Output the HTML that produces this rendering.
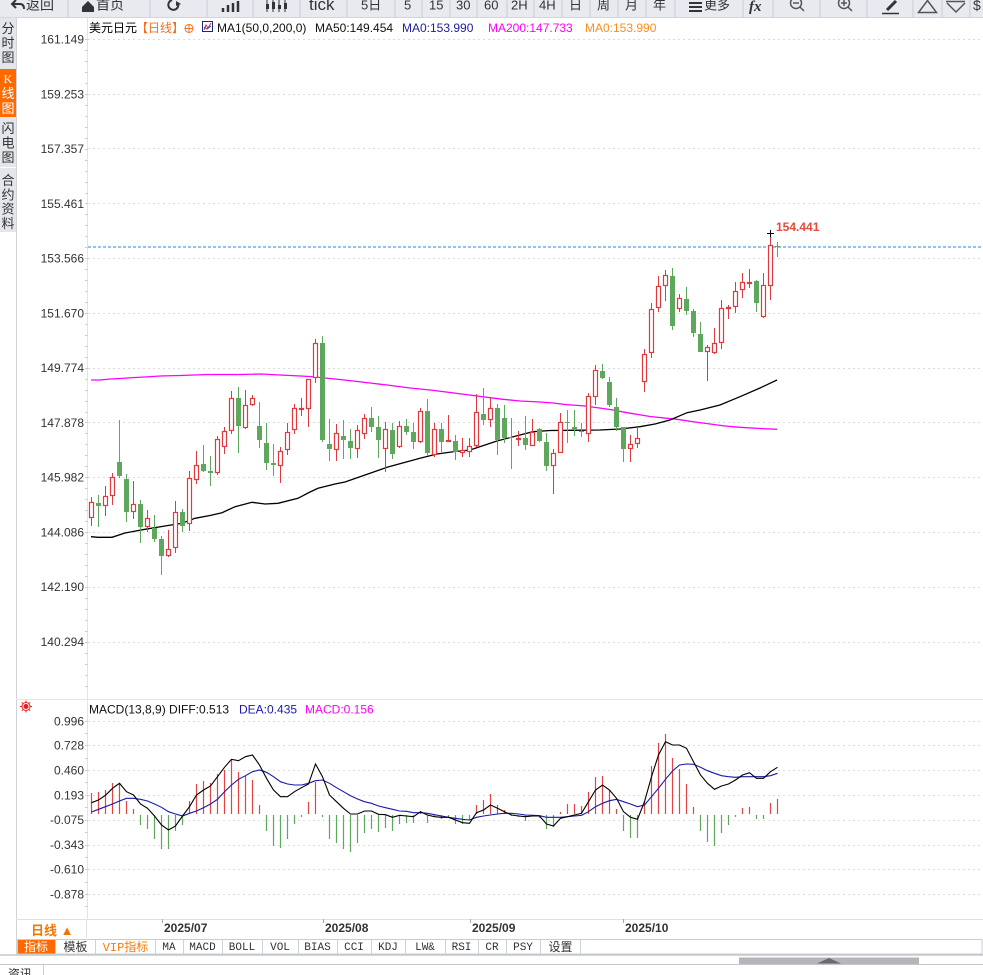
<!DOCTYPE html>
<html><head><meta charset="utf-8"><style>
html,body{margin:0;padding:0;background:#fff;width:983px;height:975px;overflow:hidden}
svg{display:block}
.t{font-family:"Liberation Sans","Noto Sans CJK SC",sans-serif}
.m{font-family:"Liberation Mono","Noto Sans CJK SC",monospace}
</style></head><body>
<svg width="983" height="975" viewBox="0 0 983 975" xmlns="http://www.w3.org/2000/svg">
<rect width="983" height="975" fill="#fff"/>
<!-- toolbar -->
<rect x="0" y="0" width="983" height="17" fill="#e9eaef"/>
<line x1="0" y1="17.5" x2="983" y2="17.5" stroke="#d2d5db"/>
<g stroke="#d3d6dc" stroke-width="1.5">
<line x1="68" y1="0" x2="68" y2="17"/><line x1="150" y1="0" x2="150" y2="17"/><line x1="207" y1="0" x2="207" y2="17"/><line x1="253" y1="0" x2="253" y2="17"/><line x1="300" y1="0" x2="300" y2="17"/><line x1="347" y1="0" x2="347" y2="17"/><line x1="395" y1="0" x2="395" y2="17"/><line x1="422" y1="0" x2="422" y2="17"/><line x1="450" y1="0" x2="450" y2="17"/><line x1="477" y1="0" x2="477" y2="17"/><line x1="507" y1="0" x2="507" y2="17"/><line x1="534" y1="0" x2="534" y2="17"/><line x1="562" y1="0" x2="562" y2="17"/><line x1="590" y1="0" x2="590" y2="17"/><line x1="618" y1="0" x2="618" y2="17"/><line x1="646" y1="0" x2="646" y2="17"/><line x1="675" y1="0" x2="675" y2="17"/><line x1="743" y1="0" x2="743" y2="17"/><line x1="773" y1="0" x2="773" y2="17"/><line x1="820" y1="0" x2="820" y2="17"/><line x1="867" y1="0" x2="867" y2="17"/><line x1="913" y1="0" x2="913" y2="17"/><line x1="942" y1="0" x2="942" y2="17"/><line x1="970" y1="0" x2="970" y2="17"/>
</g>
<g fill="none" stroke="#333" stroke-width="2">
<path d="M16 0 L12 4 L16 8 M12 4 H20 Q24 4 24 9"/>
<path d="M178 3 A5 5 0 1 1 172 0"/>
<path d="M223 12V8 M228 12V5 M233 12V3 M238 12V1" stroke-width="2.5"/>
<path d="M267 0V12 M273 0V12 M279 0V12 M285 0V12" stroke-width="1"/>
<path d="M689 3H702 M689 7H702 M689 11H702" stroke-width="2"/>
<path d="M887 10 L896 1" stroke-width="3"/>
<path d="M882 13.5H899" stroke-width="1.5"/>
</g>
<polygon points="82,7 88,1 94,7 94,12 82,12" fill="#333"/>
<polygon points="176,1 181,4 176,6" fill="#333"/>
<path d="M266 4h3v5h-3z M272 2h3v7h-3z M278 5h3v4h-3z M284 3h3v6h-3z" fill="#333"/>
<g fill="none" stroke="#555" stroke-width="1.5">
<circle cx="796" cy="3" r="5.5"/><path d="M793 3H799 M800 7 L804 11"/>
<circle cx="844" cy="3" r="5.5"/><path d="M841 3H847 M844 0V6 M848 7 L852 11"/>
<polygon points="918.5,12.5 927.5,0.5 936.5,12.5"/>
<path d="M946 1.5H965 M947 3 L956 12 L965 3"/>
</g>
<g class="t" font-size="14" fill="#333">
<text x="26" y="9.5">返回</text>
<text x="96" y="9.5">首页</text>
<text x="309" y="10" font-size="17">tick</text>
<text x="361" y="9.5" font-size="13">5日</text>
<text x="404" y="9.5" font-size="13">5</text>
<text x="429" y="9.5" font-size="13">15</text>
<text x="456" y="9.5" font-size="13">30</text>
<text x="484" y="9.5" font-size="13">60</text>
<text x="511" y="9.5" font-size="13">2H</text>
<text x="539" y="9.5" font-size="13">4H</text>
<text x="569" y="9.5" font-size="13">日</text>
<text x="597" y="9.5" font-size="13">周</text>
<text x="625" y="9.5" font-size="13">月</text>
<text x="653" y="9.5" font-size="13">年</text>
<text x="704" y="9.5" font-size="13">更多</text>
<text x="749" y="11" font-size="15" font-weight="bold" font-style="italic" font-family="Liberation Serif">fx</text>
<text x="973" y="10" font-size="14">$</text>
</g>
<!-- left sidebar -->
<rect x="0" y="18" width="16" height="214" fill="#e4e6eb"/>
<rect x="0" y="69" width="16" height="48" fill="#ff6a00"/>
<line x1="0" y1="167.5" x2="16" y2="167.5" stroke="#fff"/>
<line x1="16.5" y1="18" x2="16.5" y2="955" stroke="#cfd3d9"/>
<g class="t" font-size="13" fill="#333" text-anchor="middle">
<text x="8" y="33">分</text><text x="8" y="47.5">时</text><text x="8" y="62">图</text>
<text x="8" y="83" fill="#fff" font-family="Liberation Serif" font-size="12">K</text><text x="8" y="98" fill="#fff">线</text><text x="8" y="113" fill="#fff">图</text>
<text x="8" y="133">闪</text><text x="8" y="147.5">电</text><text x="8" y="162">图</text>
<text x="8" y="185">合</text><text x="8" y="199.5">约</text><text x="8" y="213.5">资</text><text x="8" y="228">料</text>
</g>
<!-- axis line -->
<line x1="87.5" y1="18" x2="87.5" y2="919" stroke="#e1e5ea"/>
<path d="M85 39.5h3M85 50.5h3M85 61.5h3M85 72.5h3M85 83.5h3M85 94.5h3M85 105.5h3M85 116.5h3M85 127.5h3M85 138.5h3M85 149.5h3M85 160.5h3M85 171.5h3M85 182.5h3M85 193.5h3M85 203.5h3M85 214.5h3M85 225.5h3M85 236.5h3M85 247.5h3M85 258.5h3M85 269.5h3M85 280.5h3M85 291.5h3M85 302.5h3M85 313.5h3M85 324.5h3M85 335.5h3M85 346.5h3M85 357.5h3M85 368.5h3M85 379.5h3M85 390.5h3M85 401.5h3M85 412.5h3M85 422.5h3M85 433.5h3M85 444.5h3M85 455.5h3M85 466.5h3M85 477.5h3M85 488.5h3M85 499.5h3M85 510.5h3M85 521.5h3M85 532.5h3M85 543.5h3M85 554.5h3M85 565.5h3M85 576.5h3M85 587.5h3M85 598.5h3M85 609.5h3M85 620.5h3M85 631.5h3M85 642.5h3M85 653.5h3M85 664.5h3M85 675.5h3M85 686.5h3M85 721.5h3M85 733.5h3M85 745.5h3M85 758.5h3M85 770.5h3M85 782.5h3M85 795.5h3M85 807.5h3M85 820.5h3M85 832.5h3M85 845.5h3M85 857.5h3M85 869.5h3M85 882.5h3M85 894.5h3M85 906.5h3" stroke="#c9cfd6"/>
<!-- grid -->
<g stroke="#dcdcdc" stroke-dasharray="2,3">
<line x1="88" y1="39.5" x2="983" y2="39.5"/><line x1="88" y1="94.5" x2="983" y2="94.5"/><line x1="88" y1="148.5" x2="983" y2="148.5"/><line x1="88" y1="203.5" x2="983" y2="203.5"/><line x1="88" y1="258.5" x2="983" y2="258.5"/><line x1="88" y1="313.5" x2="983" y2="313.5"/><line x1="88" y1="368.5" x2="983" y2="368.5"/><line x1="88" y1="422.5" x2="983" y2="422.5"/><line x1="88" y1="477.5" x2="983" y2="477.5"/><line x1="88" y1="532.5" x2="983" y2="532.5"/><line x1="88" y1="587.5" x2="983" y2="587.5"/><line x1="88" y1="642.5" x2="983" y2="642.5"/>
<line x1="88" y1="721.5" x2="983" y2="721.5"/><line x1="88" y1="745.5" x2="983" y2="745.5"/><line x1="88" y1="770.5" x2="983" y2="770.5"/><line x1="88" y1="795.5" x2="983" y2="795.5"/><line x1="88" y1="820.5" x2="983" y2="820.5"/><line x1="88" y1="845.5" x2="983" y2="845.5"/><line x1="88" y1="869.5" x2="983" y2="869.5"/><line x1="88" y1="894.5" x2="983" y2="894.5"/>
</g>
<line x1="16" y1="699.5" x2="983" y2="699.5" stroke="#e3e5e9"/>
<!-- y labels -->
<g class="t" font-size="12" fill="#333" text-anchor="end">
<text x="84" y="43.5">161.149</text><text x="84" y="98.3">159.253</text><text x="84" y="153">157.357</text><text x="84" y="207.8">155.461</text><text x="84" y="262.5">153.566</text><text x="84" y="317.3">151.670</text><text x="84" y="372">149.774</text><text x="84" y="426.8">147.878</text><text x="84" y="481.6">145.982</text><text x="84" y="536.4">144.086</text><text x="84" y="591.2">142.190</text><text x="84" y="646">140.294</text>
<text x="84" y="725.3">0.996</text><text x="84" y="749.5">0.728</text><text x="84" y="774.3">0.460</text><text x="84" y="799.3">0.193</text><text x="84" y="824">-0.075</text><text x="84" y="849">-0.343</text><text x="84" y="873.7">-0.610</text><text x="84" y="898.5">-0.878</text>
</g>
<!-- header -->
<g class="t" font-size="12">
<text x="89" y="32" fill="#000">美元日元</text>
<text x="136" y="32" fill="#f07020">【日线】</text>
<text x="217" y="32" fill="#111">MA1(50,0,200,0)</text>
<text x="315" y="32" fill="#111">MA50:149.454</text>
<text x="402" y="32" fill="#1c1ca0">MA0:153.990</text>
<text x="488" y="32" fill="#ff00ff">MA200:147.733</text>
<text x="585" y="32" fill="#ff8c1a">MA0:153.990</text>
<text x="89" y="713.5" fill="#111">MACD(13,8,9) DIFF:0.513</text>
<text x="239" y="713.5" fill="#1a1aa8">DEA:0.435</text>
<text x="305" y="713.5" fill="#ff00ff">MACD:0.156</text>
</g>
<g fill="none" stroke="#f07020"><circle cx="189" cy="28.5" r="4"/><path d="M185 28.5h8M189 24.5v8"/></g>
<rect x="202.5" y="21.5" width="10" height="10" fill="#fff" stroke="#1a2a8a"/>
<path d="M204 30 L206 25 L208 28 L211 23" fill="none" stroke="#d03030"/>
<path d="M204 27 L207 29 L211 26" fill="none" stroke="#2040c0"/>
<g stroke="#e02020" stroke-width="1">
<circle cx="26" cy="706.5" r="3" fill="#e02020" stroke="#fff"/>
<circle cx="26" cy="706.5" r="4" fill="none"/>
<path d="M26 700.5v1.5M26 711v1.5M20 706.5h1.5M30.5 706.5h1.5M21.8 702.3l1 1M29.2 709.7l1 1M30.2 702.3l-1 1M22.8 709.7l-1 1"/>
</g>
<!-- MA200 -->
<polyline fill="none" stroke="#ff00ff" stroke-width="1.3" points="91,380 100,380 110,379 120,378.5 135,377.5 145,377 160,376 180,375.5 208,374.5 240,374.5 262,374 270,374.5 290,375.5 310,376.5 320,377.5 335,379 353,381 370,383 387,385 410,388 430,390 450,392.5 477,396 503,399.3 520,401 540,402 553,403 565,404.5 585,406 610,409.5 627,412.7 650,416.5 677,419.3 695,422 710,424 725,426 740,427.3 760,428.5 777,429.3"/>
<!-- MA50 -->
<polyline fill="none" stroke="#000" stroke-width="1.3" points="91,536.7 98,537.3 112,537.3 125,533 145,529.3 165,526 182,523.3 195,518.3 210,515.5 222,512.7 235,506.7 252,502.3 265,504 278,503.3 298,498.3 310,492 318,488.3 335,484 345,482 360,476.7 387,467.3 420,458.3 437,454 455,451.5 470,450 497,441 520,435 533,431.7 550,430.5 570,430.3 600,430 620,429 640,426.7 655,424 670,420 687,412.7 700,410 720,405 740,396.7 760,388 777,380"/>
<!-- current price line -->
<line x1="88" y1="247" x2="983" y2="247" stroke="#1e88e5" stroke-dasharray="3,2"/>
<!-- candles green -->
<path fill="none" stroke="#5ea85e" d="M98.5 495V527 M119.5 420V478 M126.5 474V522 M140.5 500V543 M154.5 515V542 M161.5 536V575 M182.5 509V532 M203.5 445V472 M210.5 456V486 M238.5 387V453 M259.5 402V448 M266.5 423V470 M273.5 444V476 M322.5 336V442 M329.5 419V461 M343.5 420V459 M350.5 429V459 M371.5 407V432 M378.5 416V458 M392.5 423V459 M406.5 419V435 M413.5 423V449 M427.5 399V456 M441.5 423V452 M455.5 435V460 M483.5 388V425 M497.5 404V455 M504.5 405V443 M511.5 418V469 M525.5 416V450 M539.5 428V442 M546.5 433V471 M567.5 410V443 M574.5 410V436 M581.5 423V437 M602.5 364V379 M609.5 377V407 M616.5 398V431 M623.5 427V462 M672.5 268V330 M686.5 287V315 M693.5 309V337 M700.5 322V352 M756.5 280V312 M777.5 242V257"/>
<g fill="#5ea85e">
<rect x="96" y="503" width="5" height="3"/><rect x="117" y="462" width="5" height="14"/><rect x="124" y="479" width="5" height="33"/><rect x="138" y="504" width="5" height="23"/><rect x="152" y="528" width="5" height="11"/><rect x="159" y="539" width="5" height="17"/><rect x="180" y="512" width="5" height="14"/><rect x="201" y="464" width="5" height="7"/><rect x="208" y="471" width="5" height="2"/><rect x="236" y="398" width="5" height="28"/><rect x="257" y="426" width="5" height="14"/><rect x="264" y="443" width="5" height="20"/><rect x="271" y="463" width="5" height="2"/><rect x="320" y="343" width="5" height="97"/><rect x="327" y="444" width="5" height="5"/><rect x="341" y="436" width="5" height="4"/><rect x="348" y="441" width="5" height="7"/><rect x="369" y="418" width="5" height="9"/><rect x="376" y="427" width="5" height="13"/><rect x="390" y="430" width="5" height="24"/><rect x="404" y="426" width="5" height="6"/><rect x="411" y="432" width="5" height="10"/><rect x="425" y="411" width="5" height="42"/><rect x="439" y="429" width="5" height="13"/><rect x="453" y="441" width="5" height="11"/><rect x="481" y="414" width="5" height="6"/><rect x="495" y="408" width="5" height="32"/><rect x="502" y="418" width="5" height="20"/><rect x="509" y="437" width="5" height="1"/><rect x="523" y="438" width="5" height="7"/><rect x="537" y="429" width="5" height="12"/><rect x="544" y="442" width="5" height="24"/><rect x="565" y="422" width="5" height="1"/><rect x="572" y="427" width="5" height="3"/><rect x="579" y="431" width="5" height="1"/><rect x="600" y="371" width="5" height="7"/><rect x="607" y="382" width="5" height="23"/><rect x="614" y="407" width="5" height="20"/><rect x="621" y="427" width="5" height="22"/><rect x="670" y="276" width="5" height="50"/><rect x="684" y="299" width="5" height="12"/><rect x="691" y="311" width="5" height="22"/><rect x="698" y="334" width="5" height="18"/><rect x="754" y="281" width="5" height="22"/><rect x="775" y="246" width="5" height="1"/>
</g>
<!-- candles red -->
<path fill="none" stroke="#e0393e" d="M91.5 497V502M91.5 518V526 M105.5 486V496M105.5 506V516 M112.5 473V477M112.5 496V505 M133.5 481V504M133.5 512V519 M147.5 510V518M147.5 527V532 M168.5 530V549M168.5 556V557 M175.5 501V512M175.5 548V553 M189.5 471V478M189.5 524V531 M196.5 451V465M196.5 480V484 M217.5 436V439M217.5 473V475 M224.5 427V431M224.5 447V454 M231.5 391V398M231.5 431V434 M245.5 390V405M245.5 428V429 M252.5 395V398M252.5 405V406 M280.5 447V451M280.5 466V483 M287.5 423V432M287.5 450V455 M294.5 404V408M294.5 430V434 M301.5 398V408M301.5 409V416 M308.5 409V427 M315.5 339V343M315.5 378V383 M336.5 424V433M336.5 450V461 M357.5 425V430M357.5 449V458 M364.5 414V418M364.5 434V439 M385.5 422V429M385.5 449V472 M399.5 421V426M399.5 447V448 M420.5 408V411M420.5 442V443 M434.5 423V429M434.5 455V457 M448.5 415V440 M462.5 438V450M462.5 453V457 M469.5 438V446M469.5 452V457 M476.5 394V412M476.5 446V447 M490.5 398V408M490.5 420V427 M518.5 431V438M518.5 439V446 M532.5 419V432 M553.5 449V453M553.5 466V494 M560.5 413V422 M588.5 393V396M588.5 434V442 M595.5 365V370M595.5 397V405 M630.5 435V444M630.5 449V462 M637.5 427V438M637.5 444V448 M644.5 349V354M644.5 382V392 M651.5 303V309M651.5 353V358 M658.5 276V286M658.5 308V312 M665.5 270V275M665.5 286V301 M679.5 294V298M679.5 309V312 M707.5 345V347M707.5 352V381 M714.5 328V343M714.5 353V354 M721.5 300V308M721.5 343V349 M728.5 305V307M728.5 308V319 M735.5 282V291M735.5 307V313 M742.5 273V282M742.5 290V298 M749.5 269V282M749.5 283V288 M763.5 273V285M763.5 317V318 M770.5 233V245M770.5 286V300"/>
<g fill="#fff" stroke="#e0393e" stroke-width="1.2">
<rect x="89.5" y="502.5" width="4" height="15"/><rect x="103.5" y="496.5" width="4" height="9"/><rect x="110.5" y="477.5" width="4" height="18"/><rect x="131.5" y="504.5" width="4" height="7"/><rect x="145.5" y="518.5" width="4" height="8"/><rect x="166.5" y="549.5" width="4" height="6"/><rect x="173.5" y="512.5" width="4" height="35"/><rect x="187.5" y="478.5" width="4" height="45"/><rect x="194.5" y="465.5" width="4" height="14"/><rect x="215.5" y="439.5" width="4" height="33"/><rect x="222.5" y="431.5" width="4" height="15"/><rect x="229.5" y="398.5" width="4" height="32"/><rect x="243.5" y="405.5" width="4" height="22"/><rect x="250.5" y="398.5" width="4" height="6"/><rect x="278.5" y="451.5" width="4" height="14"/><rect x="285.5" y="432.5" width="4" height="17"/><rect x="292.5" y="408.5" width="4" height="21"/><rect x="299.5" y="408.5" width="4" height="1"/><rect x="306.5" y="379.5" width="4" height="29"/><rect x="313.5" y="343.5" width="4" height="34"/><rect x="334.5" y="433.5" width="4" height="16"/><rect x="355.5" y="430.5" width="4" height="18"/><rect x="362.5" y="418.5" width="4" height="15"/><rect x="383.5" y="429.5" width="4" height="19"/><rect x="397.5" y="426.5" width="4" height="20"/><rect x="418.5" y="411.5" width="4" height="30"/><rect x="432.5" y="429.5" width="4" height="25"/><rect x="446.5" y="440.5" width="4" height="1"/><rect x="460.5" y="450.5" width="4" height="2"/><rect x="467.5" y="446.5" width="4" height="5"/><rect x="474.5" y="412.5" width="4" height="33"/><rect x="488.5" y="408.5" width="4" height="11"/><rect x="516.5" y="438.5" width="4" height="1"/><rect x="530.5" y="432.5" width="4" height="13"/><rect x="551.5" y="453.5" width="4" height="12"/><rect x="558.5" y="422.5" width="4" height="30"/><rect x="586.5" y="396.5" width="4" height="37"/><rect x="593.5" y="370.5" width="4" height="26"/><rect x="628.5" y="444.5" width="4" height="4"/><rect x="635.5" y="438.5" width="4" height="5"/><rect x="642.5" y="354.5" width="4" height="27"/><rect x="649.5" y="309.5" width="4" height="43"/><rect x="656.5" y="286.5" width="4" height="21"/><rect x="663.5" y="275.5" width="4" height="10"/><rect x="677.5" y="298.5" width="4" height="10"/><rect x="705.5" y="347.5" width="4" height="4"/><rect x="712.5" y="343.5" width="4" height="9"/><rect x="719.5" y="308.5" width="4" height="34"/><rect x="726.5" y="307.5" width="4" height="1"/><rect x="733.5" y="291.5" width="4" height="15"/><rect x="740.5" y="282.5" width="4" height="7"/><rect x="747.5" y="282.5" width="4" height="1"/><rect x="761.5" y="285.5" width="4" height="31"/><rect x="768.5" y="245.5" width="4" height="40"/>
</g>
<path d="M767 233.5h7 M770.5 230v7" stroke="#000" fill="none"/>
<text class="t" x="776" y="231" font-size="12" font-weight="bold" fill="#e64a3b">154.441</text>
<!-- MACD bars -->
<path fill="none" stroke="#e04444" stroke-width="1.2" d="M91.5 814V793 M98.5 814V792 M105.5 814V790 M112.5 814V783 M119.5 814V783 M126.5 814V801 M133.5 814V809 M189.5 814V801 M196.5 814V784 M203.5 814V781 M210.5 814V783 M217.5 814V774 M224.5 814V770 M231.5 814V759 M238.5 814V772 M245.5 814V776 M252.5 814V780 M259.5 814V805 M308.5 814V802 M315.5 814V782 M420.5 814V811 M476.5 814V805 M483.5 814V800 M490.5 814V794 M497.5 814V805 M504.5 814V810 M560.5 814V812 M567.5 814V804 M574.5 814V804 M581.5 814V806 M588.5 814V792 M595.5 814V777 M602.5 814V776 M609.5 814V790 M616.5 814V809 M644.5 814V801 M651.5 814V766 M658.5 814V743 M665.5 814V734 M672.5 814V758 M679.5 814V769 M686.5 814V784 M693.5 814V807 M742.5 814V808 M749.5 814V807 M770.5 814V803 M777.5 814V799"/>
<path fill="none" stroke="#5ea85e" stroke-width="1.2" d="M140.5 815V825 M147.5 815V829 M154.5 815V839 M161.5 815V849 M168.5 815V849 M175.5 815V831 M182.5 815V825 M266.5 815V831 M273.5 815V846 M280.5 815V848 M287.5 815V839 M294.5 815V824 M301.5 815V817 M322.5 815V817 M329.5 815V839 M336.5 815V843 M343.5 815V849 M350.5 815V852 M357.5 815V843 M364.5 815V833 M371.5 815V829 M378.5 815V832 M385.5 815V828 M392.5 815V831 M399.5 815V824 M406.5 815V823 M413.5 815V823 M427.5 815V823 M434.5 815V817 M441.5 815V819 M448.5 815V817 M455.5 815V824 M462.5 815V824 M469.5 815V820 M511.5 815V816 M518.5 815V817 M525.5 815V821 M532.5 815V816 M539.5 815V818 M546.5 815V829 M553.5 815V827 M623.5 815V831 M630.5 815V838 M637.5 815V838 M700.5 815V831 M707.5 815V842 M714.5 815V846 M721.5 815V833 M728.5 815V825 M735.5 815V817 M756.5 815V819 M763.5 815V819"/>
<!-- DEA -->
<polyline fill="none" stroke="#1a1aa8" stroke-width="1.1" points="91.5,812 98.5,809.3 105.5,806.7 112.5,804 119.5,801 126.5,798.3 133.5,798.3 140.5,799.3 147.5,801 154.5,804 161.5,807.3 168.5,811.7 175.5,814 182.5,816 189.5,813.3 196.5,811 203.5,807.7 210.5,804 217.5,799.3 224.5,791.7 231.5,785 238.5,779.3 245.5,775.7 252.5,771.7 259.5,770 266.5,772.3 273.5,776.7 280.5,781.7 287.5,784 294.5,785 301.5,785 308.5,783.3 315.5,780.7 322.5,780 329.5,783.3 336.5,787.7 343.5,791.7 350.5,795.7 357.5,799 364.5,801.7 371.5,803.3 378.5,806 385.5,807.7 392.5,809.3 399.5,811 406.5,811.3 413.5,812.7 420.5,812.7 427.5,813.3 434.5,814.7 441.5,816 448.5,817.3 455.5,818.3 462.5,819.3 469.5,820 476.5,817.3 483.5,816 490.5,815 497.5,814 504.5,813.3 511.5,813.3 518.5,814 525.5,815 532.5,815.3 539.5,815.7 546.5,817.3 553.5,817.3 560.5,817.3 567.5,816.7 574.5,816 581.5,815.3 588.5,811.7 595.5,806.7 602.5,803.3 609.5,800.7 616.5,799.3 623.5,801.7 630.5,804 637.5,806.7 644.5,805 651.5,796.7 658.5,788.3 665.5,779.3 672.5,771 679.5,765 686.5,764 693.5,764.3 700.5,767.3 707.5,770.7 714.5,773.3 721.5,775.7 728.5,776.7 735.5,777.3 742.5,776.7 749.5,776.7 756.5,776.7 763.5,776.7 770.5,775.7 777.5,773.3"/>
<!-- DIFF -->
<polyline fill="none" stroke="#000" stroke-width="1.1" points="91.5,802.7 98.5,800 105.5,795.3 112.5,788.3 119.5,783.3 126.5,791.7 133.5,795 140.5,804 147.5,808.3 154.5,816 161.5,825 168.5,830 175.5,826 182.5,816 189.5,806.7 196.5,795 203.5,790 210.5,786 217.5,776.7 224.5,767.3 231.5,759.3 238.5,760.7 245.5,756.7 252.5,755 259.5,765 266.5,778.3 273.5,790 280.5,796.7 287.5,796.7 294.5,791.7 301.5,787.7 308.5,784 315.5,764 322.5,776.7 329.5,795 336.5,801.7 343.5,808.3 350.5,814 357.5,814 364.5,811 371.5,811 378.5,814.3 385.5,814.7 392.5,817.3 399.5,815.3 406.5,816 413.5,816.7 420.5,811.7 427.5,815 434.5,816.7 441.5,817.3 448.5,817.3 455.5,820 462.5,822.7 469.5,823.3 476.5,812.7 483.5,810 490.5,805 497.5,808.3 504.5,811.7 511.5,815 518.5,816 525.5,816.7 532.5,816 539.5,816 546.5,824 553.5,826 560.5,818.3 567.5,816.7 574.5,815 581.5,813.3 588.5,801.7 595.5,790 602.5,785 609.5,790 616.5,798.3 623.5,811.7 630.5,817.3 637.5,819.3 644.5,801.7 651.5,776.7 658.5,755 665.5,741.7 672.5,745 679.5,745 686.5,748.3 693.5,761.7 700.5,775 707.5,783.3 714.5,789.3 721.5,786 728.5,784 735.5,780 742.5,775 749.5,772.7 756.5,778.3 763.5,778.3 770.5,771.7 777.5,767.3"/>
<!-- date row -->
<line x1="16" y1="919.5" x2="983" y2="919.5" stroke="#dde0e6"/>
<line x1="86.5" y1="919" x2="86.5" y2="938" stroke="#dde0e6"/>
<text class="t" x="31" y="935" font-size="13" font-weight="bold" fill="#f07800">日线 ▲</text>
<path d="M162.5 919v4M323.5 919v4M470.5 919v4M623.5 919v4" stroke="#aaa"/>
<g class="t" font-size="12" font-weight="bold" fill="#333">
<text x="164" y="932">2025/07</text><text x="325" y="932">2025/08</text><text x="472" y="932">2025/09</text><text x="625" y="932">2025/10</text>
</g>
<!-- tabs -->
<rect x="17" y="939" width="38" height="15" fill="#ff6a00"/>
<rect x="17.5" y="939.5" width="964.5" height="14.5" fill="none" stroke="#c8ccd4"/>
<path d="M55.5 939v15M95.5 939v15M155.5 939v15M183.5 939v15M222.5 939v15M262.5 939v15M298.5 939v15M337.5 939v15M371.5 939v15M405.5 939v15M445.5 939v15M478.5 939v15M506.5 939v15M540.5 939v15M580.5 939v15" stroke="#cdd2d9"/>
<g class="m" font-size="12" text-anchor="middle" fill="#333">
<text x="36" y="951" fill="#fff">指标</text>
<text x="75.5" y="951">模板</text>
<text x="125.5" y="951" fill="#ff7a00">VIP指标</text>
<text x="169" y="950" font-size="11">MA</text>
<text x="202.5" y="950" font-size="11">MACD</text>
<text x="242" y="950" font-size="11">BOLL</text>
<text x="280" y="950" font-size="11">VOL</text>
<text x="317.5" y="950" font-size="11">BIAS</text>
<text x="354" y="950" font-size="11">CCI</text>
<text x="388" y="950" font-size="11">KDJ</text>
<text x="425" y="950" font-size="11">LW&amp;</text>
<text x="461.5" y="950" font-size="11">RSI</text>
<text x="492" y="950" font-size="11">CR</text>
<text x="523" y="950" font-size="11">PSY</text>
<text x="560.5" y="951">设置</text>
</g>
<line x1="0" y1="955" x2="983" y2="955" stroke="#c4c8ce" stroke-width="1.5"/>
<rect x="739" y="957.5" width="180" height="6.5" fill="#b5b6bb"/>
<polygon points="817,963.5 829,958 841,963.5" fill="#6a6a6e"/>
<line x1="0" y1="964.5" x2="983" y2="964.5" stroke="#c4c8ce"/>
<line x1="43.5" y1="965" x2="43.5" y2="975" stroke="#c8ccd4"/>
<text class="t" x="8" y="978" font-size="12" fill="#333">资讯</text>
</svg>
</body></html>
